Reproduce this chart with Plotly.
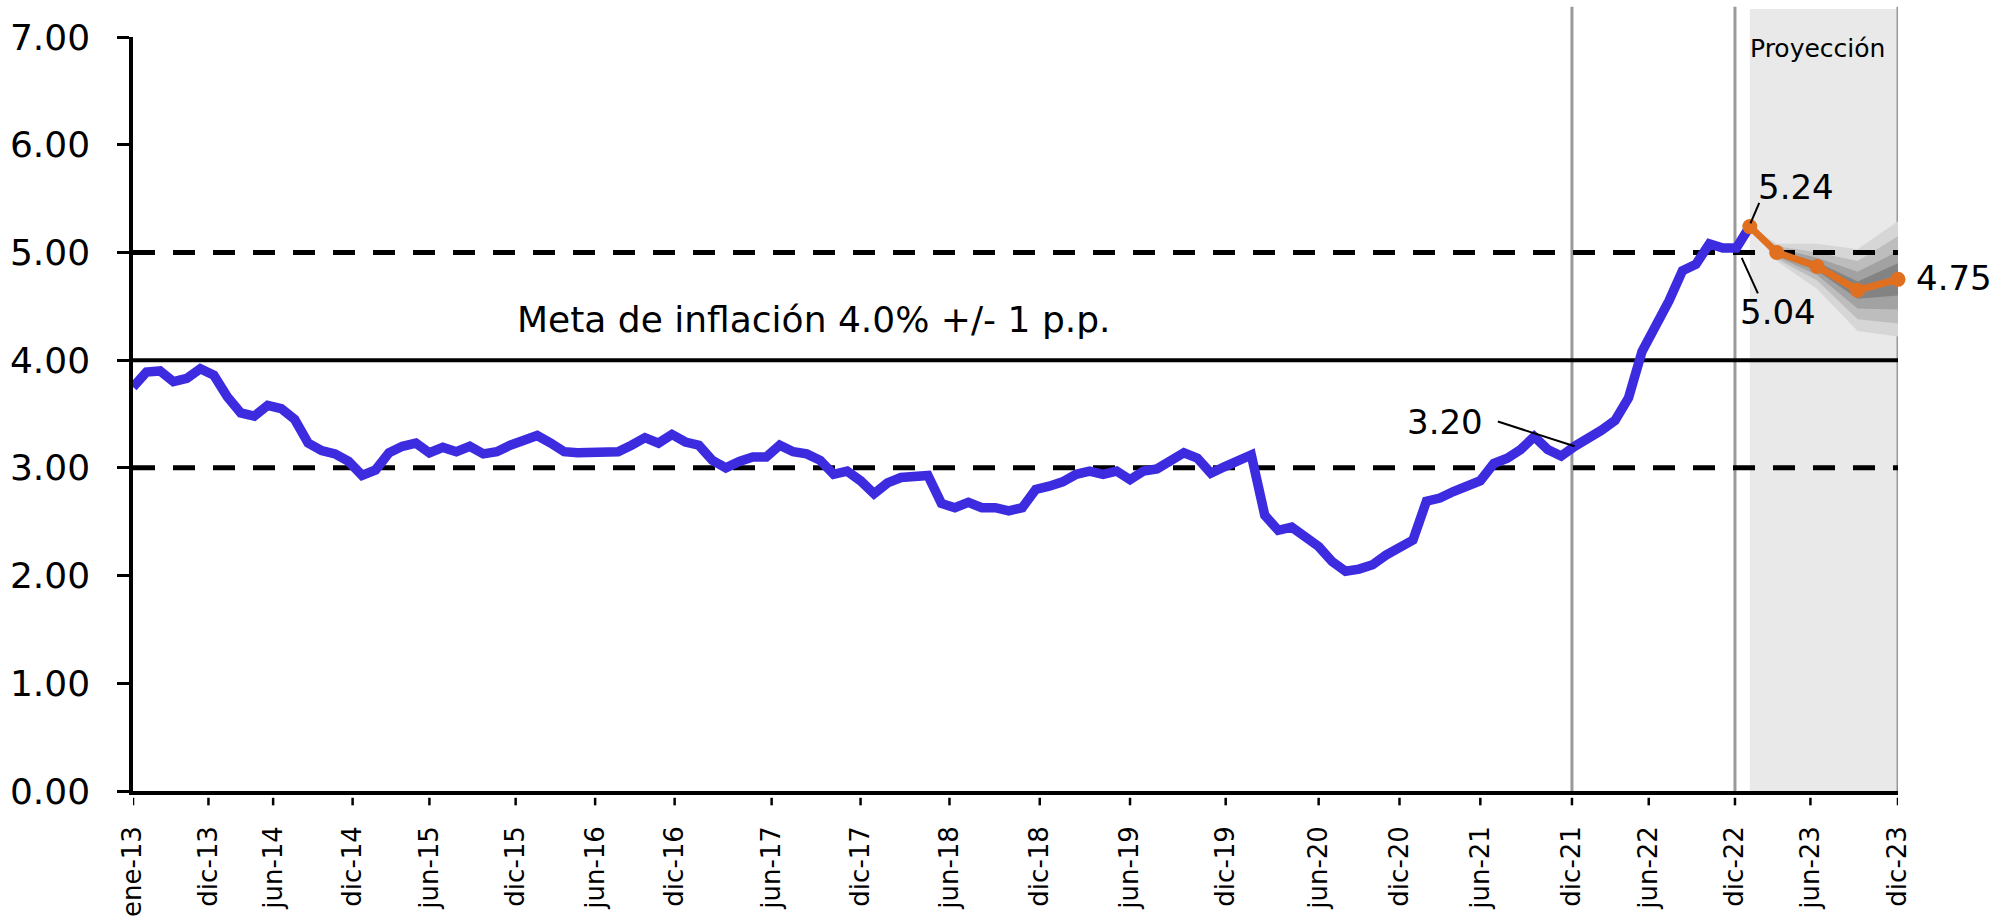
import plotly.graph_objects as go

# Observed series, one value per observation starting at ene-13
observed = [
    3.75, 3.89, 3.90, 3.80, 3.83, 3.92, 3.86, 3.66, 3.51, 3.48,
    3.58, 3.55, 3.45, 3.23, 3.16, 3.13, 3.06, 2.93, 2.98, 3.14,
    3.20, 3.23, 3.14, 3.19, 3.15, 3.20, 3.13, 3.15, 3.21, 3.25,
    3.30, 3.23, 3.15, 3.14, 3.14, 3.16, 3.15, 3.21, 3.28, 3.23,
    3.31, 3.24, 3.21, 3.07, 3.00, 3.06, 3.10, 3.10, 3.21, 3.15,
    3.13, 3.07, 2.94, 2.97, 2.88, 2.76, 2.86, 2.91, 2.93, 2.93,
    2.67, 2.63, 2.68, 2.63, 2.63, 2.60, 2.63, 2.80, 2.83, 2.87,
    2.94, 2.97, 2.94, 2.97, 2.89, 2.97, 2.99, 3.06, 3.14, 3.09,
    2.95, 3.01, 3.07, 3.12, 2.56, 2.42, 2.45, 2.35, 2.27, 2.13,
    2.04, 2.06, 2.10, 2.19, 2.25, 2.33, 2.69, 2.72, 2.78, 2.83,
    2.88, 3.04, 3.09, 3.17, 3.29, 3.17, 3.11, 3.20, 3.27, 3.35,
    3.44, 3.65, 4.08, 4.30, 4.55, 4.83, 4.89, 5.08, 5.04, 5.04,
    5.24,
]
obs_pos = list(range(len(observed)))

# Projection path (quarterly) starting from the last observation
proj_pos = [120, 122, 125, 128, 131]
proj_val = [5.24, 5.00, 4.87, 4.65, 4.75]

# Fan chart bands around the projection, outermost first
band_upper = [
    [5.24, 5.08, 5.08, 5.03, 5.29],
    [5.24, 5.06, 5.00, 4.92, 5.15],
    [5.24, 5.04, 4.95, 4.82, 5.01],
    [5.24, 5.02, 4.91, 4.73, 4.90],
]
band_lower = [
    [5.24, 4.92, 4.66, 4.27, 4.22],
    [5.24, 4.94, 4.74, 4.38, 4.34],
    [5.24, 4.96, 4.79, 4.48, 4.47],
    [5.24, 4.98, 4.83, 4.57, 4.60],
]
band_colors = ["#d6d6d6", "#bdbdbd", "#a2a2a2", "#838383"]

# Target range
target = 4.0
target_low = 3.0
target_high = 5.0

# Date labels along the horizontal axis and their observation positions
tick_text = ["ene-13", "dic-13", "jun-14", "dic-14", "jun-15", "dic-15",
             "jun-16", "dic-16", "jun-17", "dic-17", "jun-18", "dic-18",
             "jun-19", "dic-19", "jun-20", "dic-20", "jun-21", "dic-21",
             "jun-22", "dic-22", "jun-23", "dic-23"]
tick_pos = [0, 5.6, 10.4, 16.3, 22.0, 28.4, 34.3, 40.2, 47.4, 54.0, 60.6,
            67.3, 74.0, 81.1, 88.0, 94.0, 100.0, 106.8, 112.5, 118.9,
            124.5, 131]

FONT = "DejaVu Sans"
X_END = 131

fig = go.Figure()

# Fan bands
for up, lo, col in zip(band_upper, band_lower, band_colors):
    fig.add_trace(go.Scatter(
        x=proj_pos + proj_pos[::-1], y=up + lo[::-1],
        fill="toself", fillcolor=col, line=dict(width=0),
        mode="lines", hoverinfo="skip", showlegend=False))

# Target lines
for lvl in (target_high, target_low):
    fig.add_trace(go.Scatter(x=[0, X_END], y=[lvl] * 2, mode="lines",
                             line=dict(color="black", width=5, dash="22px,18px"),
                             showlegend=False, hoverinfo="skip"))
fig.add_trace(go.Scatter(x=[0, X_END], y=[target] * 2, mode="lines",
                         line=dict(color="black", width=4),
                         showlegend=False, hoverinfo="skip"))

# Observed series
fig.add_trace(go.Scatter(x=obs_pos, y=observed, mode="lines",
                         line=dict(color="#3d2be0", width=9.5),
                         showlegend=False))

# Projection
fig.add_trace(go.Scatter(x=proj_pos, y=proj_val, mode="lines+markers",
                         line=dict(color="#e07020", width=7),
                         marker=dict(color="#e07020", size=15),
                         cliponaxis=False, showlegend=False))

shapes = []
# Projection period background
shapes.append(dict(type="rect", xref="x", yref="paper",
                   x0=proj_pos[0], x1=tick_pos[-1], y0=0, y1=1.037,
                   fillcolor="#e9e9e9", line=dict(width=0), layer="below"))
# Vertical separators at dic-21, dic-22 and dic-23
for lab in ["dic-21", "dic-22", "dic-23"]:
    xv = tick_pos[tick_text.index(lab)]
    shapes.append(dict(type="line", xref="x", yref="paper",
                       x0=xv, x1=xv, y0=0, y1=1.04,
                       line=dict(color="#9a9a9a", width=3), layer="below"))
# Short detached tick marks below the date axis
for xv in tick_pos:
    shapes.append(dict(type="line", xref="x", yref="paper",
                       x0=xv, x1=xv, y0=-0.009, y1=-0.019,
                       line=dict(color="black", width=2.5)))

# Leader lines for value labels
i_320 = 107
i_504 = 119
shapes.append(dict(type="line", xref="x", yref="y", x0=101.3, y0=3.43,
                   x1=i_320, y1=observed[i_320], line=dict(color="black", width=2)))
shapes.append(dict(type="line", xref="x", yref="y", x0=120.7, y0=5.46,
                   x1=proj_pos[0] + 0.05, y1=proj_val[0] + 0.03,
                   line=dict(color="black", width=2)))
shapes.append(dict(type="line", xref="x", yref="y", x0=119.4, y0=observed[i_504] - 0.09,
                   x1=120.6, y1=4.62, line=dict(color="black", width=2)))

annotations = [
    dict(x=50.5, y=4.38, text="Meta de inflación 4.0% +/- 1 p.p.",
         font=dict(size=36), showarrow=False),
    dict(x=125.0, y=6.89, text="Proyección", font=dict(size=25),
         showarrow=False),
    dict(x=97.4, y=3.43, text=f"{observed[i_320]:.2f}", font=dict(size=34),
         showarrow=False),
    dict(x=123.4, y=5.61, text=f"{proj_val[0]:.2f}", font=dict(size=34),
         showarrow=False),
    dict(x=122.1, y=4.45, text=f"{observed[i_504]:.2f}", font=dict(size=34),
         showarrow=False),
    # right of the last projection point (outside the x range -> paper units)
    dict(xref="paper", x=(proj_pos[-1] + 1.2) / X_END, y=4.76,
         text=f"{proj_val[-1]:.2f}", font=dict(size=34),
         showarrow=False, xanchor="left"),
]

fig.update_layout(
    width=2000, height=921,
    margin=dict(l=133, r=102, t=37, b=130),
    paper_bgcolor="white", plot_bgcolor="white",
    font=dict(family=FONT, color="black"),
    shapes=shapes, annotations=annotations,
    showlegend=False,
)
fig.update_xaxes(
    range=[0, X_END], showgrid=False, zeroline=False, automargin=False,
    showline=True, linecolor="black", linewidth=3.5,
    tickmode="array", tickvals=tick_pos, ticktext=tick_text,
    tickangle=-90, ticks="", tickfont=dict(size=26, family=FONT),
    ticklabelstandoff=21,
)
fig.update_yaxes(
    range=[0, 7], dtick=1, tickformat=".2f", showgrid=False, zeroline=False,
    automargin=False,
    showline=True, linecolor="black", linewidth=3.5,
    ticks="outside", ticklen=12, tickwidth=2.5, tickcolor="black",
    tickfont=dict(size=36, family=FONT), ticklabelstandoff=20,
)

fig.write_html("out.html")
